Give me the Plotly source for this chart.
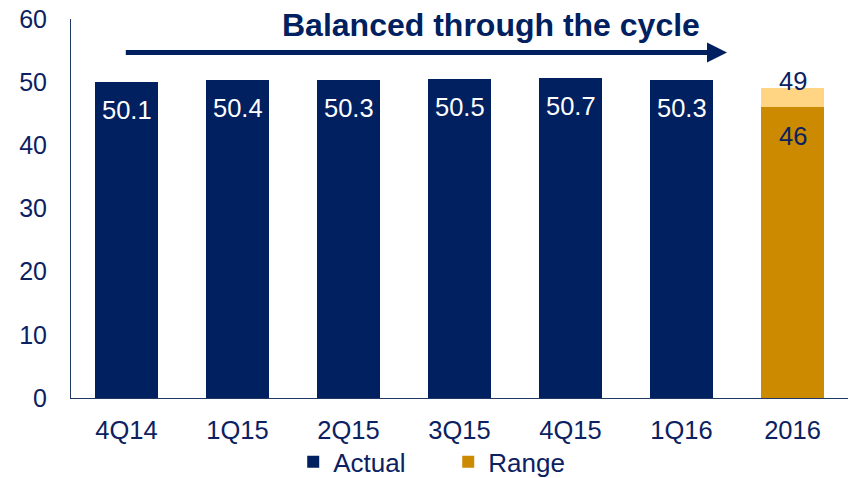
import plotly.graph_objects as go

categories = ["4Q14", "1Q15", "2Q15", "3Q15", "4Q15", "1Q16", "2016"]
actual_values = [50.1, 50.4, 50.3, 50.5, 50.7, 50.3, None]
range_low = [None, None, None, None, None, None, 46]
range_high = [None, None, None, None, None, None, 49]
y_ticks = [0, 10, 20, 30, 40, 50, 60]
title_text = "Balanced through the cycle"

NAVY = "#002060"
GOLD = "#CC8A00"
LIGHT = "#FFD583"
TXT = "#0B2161"
FONT = "Liberation Sans, Arial, sans-serif"

xpos = list(range(len(categories)))
range_extra = [None if (h is None or l is None) else h - l for h, l in zip(range_high, range_low)]

fig = go.Figure()
fig.add_trace(go.Bar(x=xpos, y=actual_values, name="Actual",
                     marker=dict(color=NAVY, line=dict(width=0))))
fig.add_trace(go.Bar(x=xpos, y=range_low, name="Range",
                     marker=dict(color=GOLD, line=dict(width=0))))
fig.add_trace(go.Bar(x=xpos, y=range_extra, name="Range high", showlegend=False,
                     marker=dict(color=LIGHT, line=dict(width=0))))

LBL = 25.5
annotations = []
for i, v in zip(xpos, actual_values):
    if v is not None:
        annotations.append(dict(x=i, y=v, xref="x", yref="y", text=f"{v:.1f}",
                                showarrow=False, yanchor="top", yshift=-12,
                                font=dict(size=LBL, color="white", family=FONT)))
for i, lo, hi in zip(xpos, range_low, range_high):
    if lo is not None:
        annotations.append(dict(x=i, y=lo, xref="x", yref="y", text=f"{lo:g}",
                                showarrow=False, yanchor="top", yshift=-13,
                                font=dict(size=LBL, color=TXT, family=FONT)))
        annotations.append(dict(x=i, y=hi, xref="x", yref="y", text=f"{hi:g}",
                                showarrow=False, yanchor="bottom", yshift=-9,
                                font=dict(size=LBL, color=TXT, family=FONT)))

# arrow
annotations.append(dict(x=5.41, y=54.7, ax=-0.02, ay=54.7, xref="x", yref="y",
                        axref="x", ayref="y", text="", showarrow=True,
                        arrowhead=2, arrowsize=0.8, arrowwidth=5, arrowcolor=NAVY))
annotations.append(dict(x=0.541, y=0.984, xref="paper", yref="paper", text=f"<b>{title_text}</b>",
                        showarrow=False, xanchor="center", yanchor="middle",
                        font=dict(size=32, color=NAVY, family=FONT)))

fig.update_layout(
    barmode="stack",
    bargap=0.43,
    width=852, height=478,
    margin=dict(l=71, r=3.5, t=19, b=80),
    paper_bgcolor="white", plot_bgcolor="white",
    font=dict(family=FONT, size=24, color=TXT),
    showlegend=True,
    legend=dict(orientation="h", x=0.286, xanchor="left", yref="container", y=0.034,
                yanchor="middle", bgcolor="rgba(0,0,0,0)",
                font=dict(size=26, color=TXT), entrywidth=110, itemsizing="constant",
                traceorder="normal"),
    annotations=annotations,
)
fig.update_xaxes(range=[-0.5, 6.5], tickvals=xpos, ticktext=categories, automargin=False,
                 showline=True, linecolor="#1F3864", linewidth=1, ticks="",
                 showgrid=False, zeroline=False, ticklabelstandoff=9,
                 ticklabeloverflow="allow",
                 tickfont=dict(size=25.5, color=TXT, family=FONT))
fig.update_yaxes(range=[0, 60], tickvals=y_ticks, showline=True, linecolor="#1F3864",
                 linewidth=1, ticks="", showgrid=False, zeroline=False, automargin=False,
                 ticklabelstandoff=18, ticklabeloverflow="allow",
                 tickfont=dict(size=25, color=TXT, family=FONT))

fig.write_html("out.html", config={"displayModeBar": False},
               post_script="document.body.style.margin='0';")
